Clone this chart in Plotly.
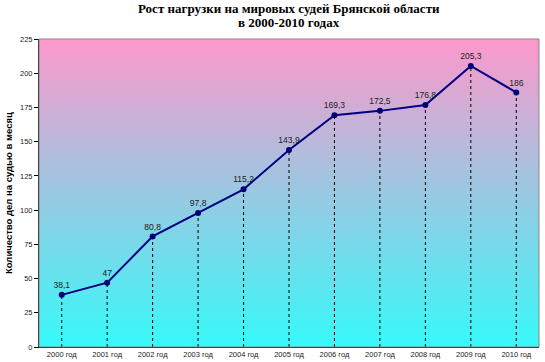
import plotly.graph_objects as go

years = ["2000 год", "2001 год", "2002 год", "2003 год", "2004 год", "2005 год",
         "2006 год", "2007 год", "2008 год", "2009 год", "2010 год"]
values = [38.1, 47, 80.8, 97.8, 115.2, 143.9, 169.3, 172.5, 176.8, 205.3, 186]
value_labels = ["38,1", "47", "80,8", "97,8", "115,2", "143,9", "169,3", "172,5", "176,8", "205,3", "186"]
y_ticks = [0, 25, 50, 75, 100, 125, 150, 175, 200, 225]
title_lines = ["Рост нагрузки на мировых судей Брянской области", "в 2000-2010 годах"]
y_title = "Количество дел на судью в месяц"

xpos = list(range(len(years)))
ymax = 225

fig = go.Figure()

# gradient background of the plot area
fig.add_trace(go.Heatmap(
    x=[-0.5, len(years) - 0.5], y=[0, ymax], z=[[0, 0], [1, 1]],
    zsmooth="best", showscale=False, hoverinfo="skip",
    colorscale=[[0, "#36F9F9"], [1, "#FC98CB"]],
))

fig.add_trace(go.Scatter(
    x=xpos, y=values, mode="lines+markers+text",
    text=value_labels, textposition="top center",
    textfont=dict(family="Liberation Sans, Arial", size=8.5, color="#222222"),
    line=dict(color="#000080", width=2),
    marker=dict(color="#000080", size=6),
    cliponaxis=False, showlegend=False,
))

for xi, v in zip(xpos, values):
    fig.add_shape(type="line", x0=xi, x1=xi, y0=0, y1=v, xref="x", yref="y",
                  line=dict(color="black", width=1, dash="dot"), layer="above")

fig.add_shape(type="rect", xref="paper", yref="paper", x0=0, x1=1, y0=0, y1=1,
              line=dict(color="#888888", width=1), layer="above")

# title, two lines
for line, shift in zip(title_lines, [31, 16.5]):
    fig.add_annotation(
        text="<b>" + line + "</b>",
        xref="paper", yref="paper", x=0.5, y=1, xanchor="center", yanchor="middle",
        xshift=0, yshift=shift, showarrow=False,
        font=dict(family="Liberation Serif, Times New Roman", size=13, color="black"),
    )

# y axis title
fig.add_annotation(
    text="<b>" + y_title + "</b>", textangle=-90,
    xref="paper", yref="paper", x=0, y=0.5, xanchor="center", yanchor="middle",
    xshift=-31, showarrow=False,
    font=dict(family="Liberation Sans, Arial", size=9.5, color="black"),
)

fig.update_layout(
    width=545, height=362,
    margin=dict(l=39, r=6, t=39, b=15, autoexpand=False),
    paper_bgcolor="white", plot_bgcolor="white",
    font=dict(family="Liberation Sans, Arial", size=7.5, color="black"),
)
fig.update_xaxes(range=[-0.5, len(years) - 0.5], tickmode="array", tickvals=xpos, ticktext=years,
                 showgrid=False, zeroline=False, showline=True, linecolor="black", linewidth=1,
                 tickfont=dict(size=7.5, color="#222222"), ticks="", automargin=False)
fig.update_yaxes(range=[0, ymax], tickmode="array", tickvals=y_ticks,
                 showgrid=False, zeroline=False, showline=True, linecolor="black", linewidth=1,
                 ticks="outside", ticklen=4, tickcolor="black",
                 tickfont=dict(size=7.5, color="#222222"), automargin=False)

fig.write_html("out.html", config={"displayModeBar": False},
               post_script="document.body.style.margin='0';")
